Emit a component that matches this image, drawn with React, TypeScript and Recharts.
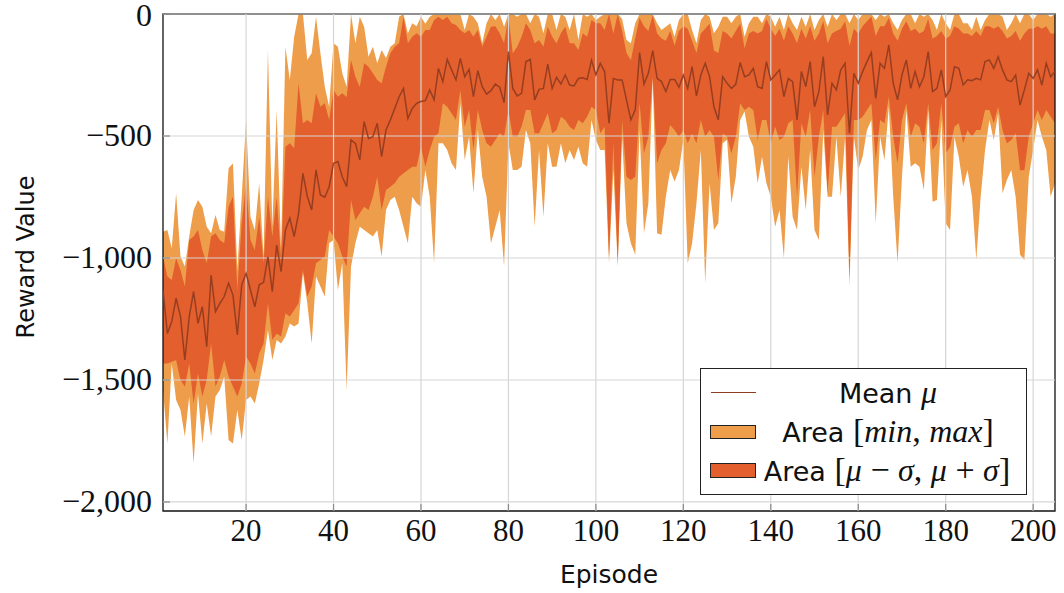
import React from 'react';
import { ComposedChart, Area, Line, XAxis, YAxis, ReferenceLine, ReferenceArea, Legend } from 'recharts';

// Episode index 1..205
const episodes: number[] = Array.from({ length: 205 }, (_, i) => i + 1);

// Mean reward per episode
const meanReward: number[] = [
  -1131, -1309, -1261, -1165, -1240, -1418, -1240, -1138, -1268, -1200,
  -1363, -1070, -1220, -1186, -1158, -1104, -1152, -1315, -1110, -1063,
  -1131, -1200, -1110, -1100, -995, -1138, -947, -1056, -885, -837,
  -912, -817, -653, -748, -803, -639, -742, -751, -708, -612,
  -605, -667, -708, -516, -530, -598, -441, -510, -503, -448,
  -585, -475, -434, -387, -339, -305, -428, -387, -366, -359,
  -355, -311, -352, -223, -277, -186, -229, -270, -182, -257,
  -227, -339, -232, -298, -328, -314, -287, -300, -363, -154,
  -305, -336, -325, -195, -186, -352, -309, -305, -205, -305,
  -260, -287, -250, -291, -295, -264, -261, -268, -189, -250,
  -202, -236, -448, -264, -270, -270, -352, -434, -393, -158,
  -287, -243, -150, -264, -277, -318, -268, -268, -300, -250,
  -305, -216, -336, -250, -202, -257, -380, -434, -257, -284,
  -305, -287, -199, -257, -250, -223, -298, -305, -195, -270,
  -250, -229, -339, -264, -277, -434, -236, -298, -195, -380,
  -318, -175, -414, -284, -311, -229, -202, -489, -243, -284,
  -236, -195, -158, -346, -202, -223, -127, -284, -352, -250,
  -188, -305, -236, -298, -257, -154, -318, -305, -229, -339,
  -311, -216, -223, -291, -270, -273, -264, -270, -195, -188,
  -223, -175, -229, -270, -277, -250, -373, -311, -243, -264,
  -229, -291, -202, -257, -236,
];

// Maximum reward per episode (clipped at 0 by the axis)
const maxReward: number[] = [
  -892, -885, -960, -735, -994, -1035, -912, -803, -762, -790,
  -872, -899, -824, -885, -892, -632, -612, -1049, -749, -434,
  -831, -885, -694, -994, -148, -872, -393, -967, -134, -270,
  -93, 0, 0, -189, -161, -11, -161, -298, -380, -120,
  -134, -243, -298, 0, -120, -11, -52, -175, -134, -202,
  -148, -180, -134, -120, -11, 0, -79, -38, -50, -11,
  -40, -11, 0, 0, 0, 0, 0, 0, 0, -66,
  0, -11, -38, -120, -38, 0, -25, 0, -52, 0,
  0, -11, 0, 0, -38, 0, -11, -79, 0, 0,
  -66, 0, -11, -66, 0, -107, 0, -11, 0, -25,
  -11, 0, 0, 0, 0, -20, -107, -120, -38, 0,
  0, 0, 0, -38, -66, -52, -38, -93, -25, 0,
  0, -66, -120, -25, 0, -11, -79, -52, -11, -11,
  -38, -11, 0, -93, -38, -11, -11, -38, 0, -11,
  -52, -11, -66, 0, -38, -66, -11, -52, 0, -66,
  -25, 0, -52, 0, -25, 0, 0, -38, 0, -25,
  0, 0, 0, -25, 0, -11, 0, -38, -66, -25,
  0, 0, -38, 0, -11, 0, -25, -66, 0, -38,
  -66, 0, 0, -38, -38, -66, -11, -66, -25, 0,
  0, 0, -11, -66, -38, 0, -38, 0, 0, -25,
  0, 0, 0, -11, 0,
];

// Minimum reward per episode
const minReward: number[] = [
  -1540, -1760, -1432, -1582, -1623, -1732, -1568, -1841, -1555, -1760,
  -1596, -1732, -1568, -1541, -1486, -1746, -1760, -1623, -1746, -1582,
  -1568, -1596, -1514, -1418, -1295, -1418, -1336, -1350, -1322, -1268,
  -1281, -1268, -1060, -1186, -1350, -1076, -1117, -1158, -940, -926,
  -1131, -1022, -1541, -1035, -940, -872, -885, -899, -912, -885,
  -994, -803, -762, -749, -803, -872, -940, -749, -776, -790,
  -639, -749, -1022, -530, -530, -557, -612, -639, -366, -598,
  -503, -735, -475, -667, -749, -940, -872, -803, -1035, -530,
  -639, -639, -626, -475, -530, -872, -557, -831, -530, -626,
  -626, -530, -612, -557, -598, -544, -612, -626, -434, -516,
  -557, -557, -1022, -639, -1035, -503, -858, -940, -987, -475,
  -899, -776, -262, -899, -905, -749, -639, -687, -639, -516,
  -1022, -940, -776, -557, -1104, -694, -885, -858, -530, -515,
  -776, -667, -434, -400, -503, -544, -694, -585, -694, -749,
  -872, -803, -1001, -585, -831, -885, -626, -803, -557, -885,
  -926, -475, -749, -749, -503, -749, -503, -1117, -503, -639,
  -585, -475, -434, -858, -503, -598, -380, -749, -1022, -667,
  -393, -626, -612, -626, -721, -393, -770, -762, -434, -858,
  -885, -503, -585, -708, -639, -749, -1008, -749, -557, -434,
  -516, -407, -735, -680, -639, -749, -987, -1008, -667, -557,
  -434, -503, -557, -749, -694,
];

// Upper edge mu + sigma (clipped at 0)
const stdUpper: number[] = [
  -994, -1076, -1090, -1001, -1049, -1117, -926, -912, -885, -967,
  -1022, -912, -899, -926, -940, -790, -749, -1131, -858, -694,
  -926, -967, -831, -1022, -749, -912, -749, -1000, -544, -530,
  -550, -284, -448, -434, -448, -325, -380, -366, -434, -311,
  -339, -325, -340, -189, -257, -298, -202, -216, -243, -270,
  -284, -216, -161, -134, -120, -11, -120, -93, -79, -93,
  -66, -66, -25, -11, -25, -11, -38, -45, -66, -79,
  -66, -93, -66, -134, -93, -52, -50, -79, -120, -11,
  -161, -134, -93, -38, -66, -120, -107, -134, -52, -93,
  -120, -79, -52, -120, -120, -148, -79, -93, -25, -38,
  -38, -66, 0, -80, 0, -70, -160, -190, -100, -15,
  -50, -70, -5, -80, -100, -110, -70, -130, -70, -50,
  -60, -110, -160, -80, -60, -40, -150, -160, -70, -80,
  -100, -70, -40, -140, -80, -70, -80, -70, -20, -60,
  -90, -60, -110, -50, -80, -120, -60, -100, -50, -110,
  -80, -30, -120, -80, -70, -60, -30, -130, -60, -80,
  -50, -30, -10, -90, -50, -50, -15, -80, -110, -60,
  -30, -70, -60, -80, -70, -20, -100, -90, -70, -100,
  -90, -50, -60, -80, -80, -90, -70, -90, -50, -50,
  -60, -50, -70, -100, -90, -70, -110, -80, -60, -60,
  -50, -60, -50, -80, -80,
];

// Lower edge mu - sigma
const stdLower: number[] = [
  -1432, -1432, -1425, -1418, -1500, -1527, -1432, -1596, -1473, -1568,
  -1500, -1350, -1527, -1486, -1418, -1486, -1527, -1568, -1514, -1404,
  -1432, -1473, -1391, -1350, -1186, -1336, -1309, -1322, -1227, -1240,
  -1213, -1186, -1049, -1158, -1117, -1022, -1008, -994, -885, -912,
  -940, -994, -1035, -762, -844, -817, -790, -803, -749, -667,
  -803, -721, -708, -694, -667, -653, -639, -626, -626, -544,
  -626, -557, -503, -489, -366, -380, -407, -434, -311, -462,
  -393, -557, -393, -475, -530, -544, -516, -489, -503, -393,
  -503, -503, -462, -393, -393, -489, -489, -448, -407, -489,
  -475, -421, -434, -462, -475, -434, -448, -421, -380, -393,
  -489, -462, -994, -530, -1022, -434, -667, -680, -667, -366,
  -571, -503, -257, -612, -557, -530, -455, -475, -503, -475,
  -530, -490, -530, -434, -503, -475, -503, -680, -489, -503,
  -571, -503, -366, -393, -380, -393, -516, -434, -434, -530,
  -462, -516, -503, -448, -434, -749, -448, -503, -393, -667,
  -503, -393, -735, -462, -462, -434, -407, -1076, -434, -434,
  -421, -393, -366, -599, -434, -448, -339, -503, -612, -434,
  -366, -503, -448, -462, -530, -366, -557, -530, -366, -571,
  -544, -462, -448, -530, -475, -503, -475, -475, -393, -393,
  -448, -380, -475, -530, -516, -489, -640, -640, -503, -448,
  -393, -434, -393, -421, -448,
];

const xTicks: number[] = [20, 40, 60, 80, 100, 120, 140, 160, 180, 200];
const yTicks: number[] = [-2000, -1500, -1000, -500, 0];

const data = episodes.map((ep, i) => ({
  ep,
  mean: meanReward[i],
  range: [minReward[i], maxReward[i]],
  std: [stdLower[i], stdUpper[i]],
}));

const LIGHT = '#EE9D4A';
const DARK = '#E35F2D';
const MEAN = '#8E3B20';
const GRID = '#d6d6d6';
const TICKMARK = '#8a8a8a';
const SERIF = '"Liberation Serif", "DejaVu Serif", serif';
const SANS = '"DejaVu Sans", sans-serif';

const fmtY = (v: number) => (v < 0 ? '\u2212' + Math.abs(v).toLocaleString('en-US') : String(v));

const XTick = (props: any) => {
  const { x, y, payload } = props;
  return (
    <g>
      <line x1={x} x2={x} y1={y - 20} y2={y - 27} stroke={TICKMARK} strokeWidth={1.2} />
      <text x={x} y={y} dy={10} textAnchor="middle" fontFamily={SERIF} fontSize={31} fill="#111">
        {payload.value}
      </text>
    </g>
  );
};

const YTick = (props: any) => {
  const { x, y, payload } = props;
  // the top label sits right at the chart edge, nudge it down a touch
  const dy = payload.value === 0 ? 12 : 10;
  return (
    <g>
      <line x1={x + 11} x2={x + 18} y1={y} y2={y} stroke={TICKMARK} strokeWidth={1.2} />
      <text x={x} y={y} dy={dy} textAnchor="end" fontFamily={SERIF} fontSize={32} fill="#111">
        {fmtY(payload.value)}
      </text>
    </g>
  );
};

const TopTick = (props: any) => {
  const { x, y } = props;
  return <line x1={x} x2={x} y1={y} y2={y + 7} stroke={TICKMARK} strokeWidth={1.2} />;
};

const RightTick = (props: any) => {
  const { x, y } = props;
  return <line x1={x} x2={x - 7} y1={y} y2={y} stroke={TICKMARK} strokeWidth={1.2} />;
};

const mathStyle: React.CSSProperties = { fontFamily: SERIF, fontStyle: 'italic', fontSize: 32 };
const bracket: React.CSSProperties = { fontFamily: SERIF, fontSize: 34 };

const rowText: React.CSSProperties = {
  position: 'absolute',
  left: 187,
  transform: 'translate(-50%, -50%)',
  whiteSpace: 'nowrap',
  fontFamily: SANS,
  fontSize: 27,
  color: '#111',
  lineHeight: '34px',
};

const renderLegend = () => (
  <div
    style={{
      position: 'relative',
      width: 327,
      height: 127,
      border: '1.3px solid #222',
      background: '#fff',
      boxSizing: 'border-box',
    }}
  >
    <div style={{ position: 'absolute', left: 10, top: 23, width: 45, height: 0, borderTop: `1.4px solid ${MEAN}` }} />
    <div style={{ ...rowText, top: 24 }}>
      Mean <span style={mathStyle}>{'\u03bc'}</span>
    </div>
    <div style={{ position: 'absolute', left: 9, top: 56, width: 46, height: 14, background: LIGHT, border: '1.2px solid #222', boxSizing: 'border-box' }} />
    <div style={{ ...rowText, top: 63 }}>
      Area <span style={bracket}>[</span>
      <span style={mathStyle}>min</span>
      <span style={bracket}>, </span>
      <span style={mathStyle}>max</span>
      <span style={bracket}>]</span>
    </div>
    <div style={{ position: 'absolute', left: 9, top: 94, width: 46, height: 15, background: DARK, border: '1.2px solid #222', boxSizing: 'border-box' }} />
    <div style={{ ...rowText, top: 102, left: 186 }}>
      Area <span style={bracket}>[</span>
      <span style={mathStyle}>{'\u03bc'}</span>
      <span style={bracket}> {'\u2212'} </span>
      <span style={mathStyle}>{'\u03c3'}</span>
      <span style={bracket}>, </span>
      <span style={mathStyle}>{'\u03bc'}</span>
      <span style={bracket}> + </span>
      <span style={mathStyle}>{'\u03c3'}</span>
      <span style={bracket}>]</span>
    </div>
  </div>
);

const App = () => {
  return (
    <div style={{ position: 'absolute', left: 0, top: 0, background: '#fff' }}>
      <ComposedChart width={1064} height={593} data={data} margin={{ top: 14, right: 9, bottom: 0, left: 0 }}>
        <XAxis
          dataKey="ep"
          type="number"
          domain={[1, 205]}
          ticks={xTicks}
          allowDataOverflow
          axisLine={false}
          tickLine={false}
          tickSize={0}
          tickMargin={20}
          height={82}
          tick={<XTick />}
          interval={0}
          label={{
            content: () => (
              <text x={609} y={583} textAnchor="middle" fontFamily={SANS} fontSize={25} fill="#111">
                Episode
              </text>
            ),
          }}
        />
        <XAxis
          xAxisId="top"
          dataKey="ep"
          type="number"
          orientation="top"
          domain={[1, 205]}
          ticks={xTicks}
          allowDataOverflow
          axisLine={false}
          tickLine={false}
          tickSize={0}
          tickMargin={0}
          height={0}
          tick={<TopTick />}
          interval={0}
        />
        <YAxis
          type="number"
          domain={[-2037, 0]}
          ticks={yTicks}
          allowDataOverflow
          axisLine={false}
          tickLine={false}
          tickSize={0}
          tickMargin={11}
          width={163}
          tick={<YTick />}
          interval={0}
          label={{
            content: () => (
              <text
                x={34}
                y={257}
                transform="rotate(-90 34 257)"
                textAnchor="middle"
                fontFamily={SANS}
                fontSize={24}
                fill="#111"
              >
                Reward Value
              </text>
            ),
          }}
        />
        <YAxis
          yAxisId="right"
          orientation="right"
          type="number"
          domain={[-2037, 0]}
          ticks={yTicks}
          allowDataOverflow
          axisLine={false}
          tickLine={false}
          tickSize={0}
          tickMargin={0}
          width={0}
          tick={<RightTick />}
          interval={0}
        />
        <Area
          type="linear"
          dataKey="range"
          stroke="none"
          fill={LIGHT}
          fillOpacity={1}
          isAnimationActive={false}
          name="Area [min, max]"
        />
        <Area
          type="linear"
          dataKey="std"
          stroke="none"
          fill={DARK}
          fillOpacity={1}
          isAnimationActive={false}
          name="Area [mu - sigma, mu + sigma]"
        />
        {xTicks.map((t) => (
          <ReferenceLine key={'gx' + t} x={t} stroke={GRID} strokeWidth={1.2} />
        ))}
        {yTicks.map((t) => (
          <ReferenceLine key={'gy' + t} y={t} stroke={GRID} strokeWidth={1.2} />
        ))}
        <Line
          type="linear"
          dataKey="mean"
          stroke={MEAN}
          strokeWidth={1.5}
          strokeOpacity={0.9}
          dot={false}
          activeDot={false}
          isAnimationActive={false}
          name="Mean"
        />
        <ReferenceArea x1={1} x2={205} y1={-2037} y2={0} fill="none" stroke="#111" strokeWidth={1.3} ifOverflow="visible" />
        <Legend
          layout="vertical"
          align="center"
          verticalAlign="middle"
          content={renderLegend}
          wrapperStyle={{ left: 700, top: 368, bottom: 'auto', right: 'auto', width: 327, height: 127 }}
        />
      </ComposedChart>
    </div>
  );
};

export default App;
